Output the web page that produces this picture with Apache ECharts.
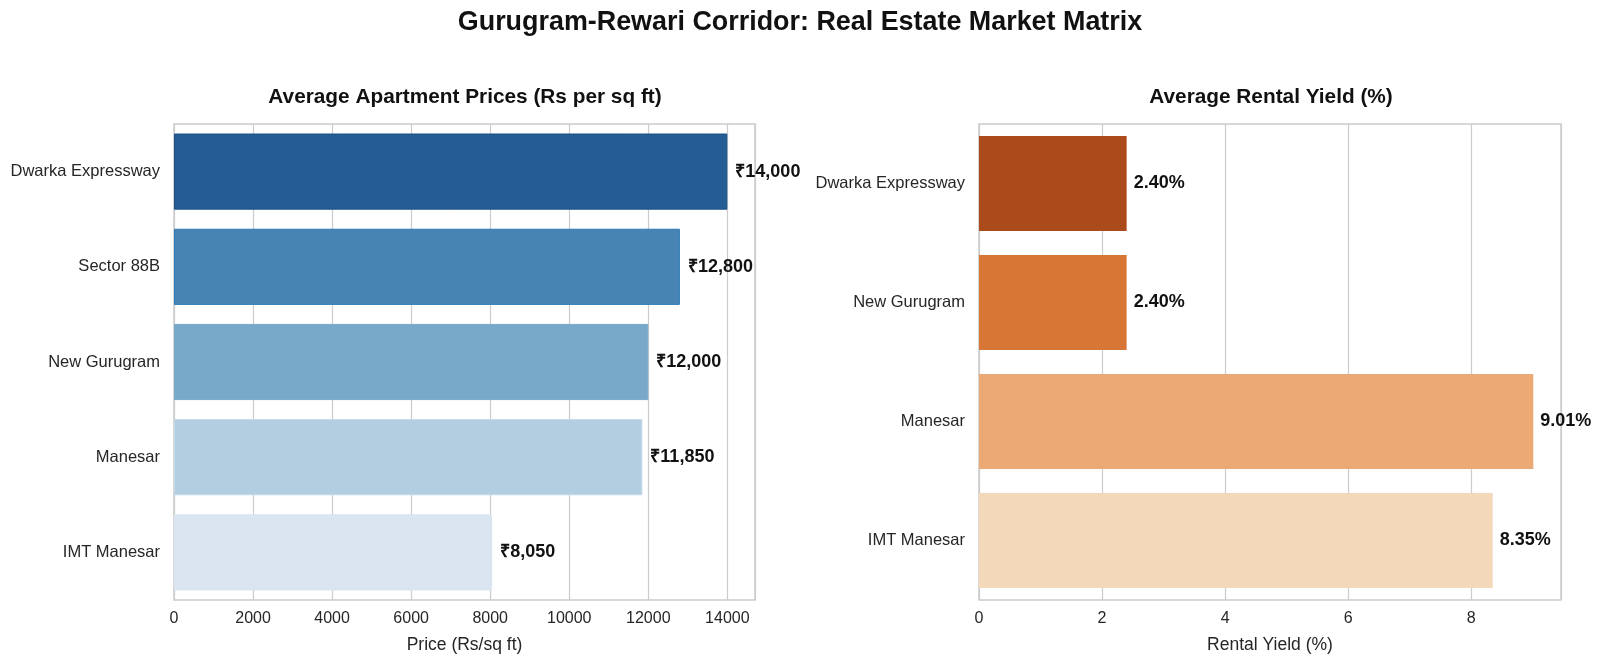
<!DOCTYPE html>
<html>
<head>
<meta charset="utf-8">
<script src="https://cdn.jsdelivr.net/npm/echarts@6/dist/echarts.min.js"></script>
<style>html,body{margin:0;padding:0;background:#fff}#c{width:1600px;height:663px}</style>
</head>
<body>
<div id="c"></div>
<script>
const priceCategories = ['Dwarka Expressway', 'Sector 88B', 'New Gurugram', 'Manesar', 'IMT Manesar'];
const priceValues = [14000, 12800, 12000, 11850, 8050];
const priceColors = ['#245d93', '#4884b3', '#79a9c9', '#b3cee0', '#dae5f1'];
const priceBorders = ['#1b4f88', '#2f7bb6', '#79a9c9', '#c3d9e8', '#dae5f1'];
const priceTicks = [0, 2000, 4000, 6000, 8000, 10000, 12000, 14000];

const yieldCategories = ['Dwarka Expressway', 'New Gurugram', 'Manesar', 'IMT Manesar'];
const yieldValues = [2.40, 2.40, 9.01, 8.35];
const yieldColors = ['#ab4a1b', '#d87636', '#eaa975', '#f3d8ba'];
const yieldTicks = [0, 2, 4, 6, 8];

const FONT = '"Liberation Sans", Arial, sans-serif';
const chart = echarts.init(document.getElementById('c'));

const priceMax = Math.max(...priceValues) * 1.05;
const yieldMax = Math.max(...yieldValues) * 1.05;

function valueAxis(gridIndex, max, interval, name, ticks) {
  return {
    type: 'value', gridIndex, min: 0, max, interval,
    name, nameLocation: 'middle', nameGap: 36,
    nameTextStyle: { fontFamily: FONT, fontSize: 17.5, color: '#262626' },
    axisLine: { show: false }, axisTick: { show: false },
    axisLabel: { fontFamily: FONT, fontSize: 16, color: '#262626', margin: 11, showMaxLabel: false,
      formatter: v => ticks.indexOf(v) >= 0 ? String(v) : '' },
    splitLine: { show: true, lineStyle: { color: '#cccccc', width: 1.2 } }
  };
}
function catAxis(gridIndex, data) {
  return {
    type: 'category', gridIndex, data, inverse: true,
    axisLine: { show: false }, axisTick: { show: false },
    axisLabel: { fontFamily: FONT, fontSize: 16.5, color: '#262626', margin: 14 },
    splitLine: { show: false }
  };
}

chart.setOption({
  backgroundColor: '#ffffff',
  animation: false,
  title: [
    { text: 'Gurugram-Rewari Corridor: Real Estate Market Matrix', left: 795, top: 4, textAlign: 'center',
      textStyle: { fontFamily: FONT, fontSize: 26.9, fontWeight: 'bold', color: '#111' } },
    { text: 'Average Apartment Prices (Rs per sq ft)', left: 460, top: 82, textAlign: 'center',
      textStyle: { fontFamily: FONT, fontSize: 20.8, fontWeight: 'bold', color: '#111' } },
    { text: 'Average Rental Yield (%)', left: 1266, top: 82, textAlign: 'center',
      textStyle: { fontFamily: FONT, fontSize: 20.8, fontWeight: 'bold', color: '#111' } }
  ],
  grid: [
    { left: 174, top: 124, width: 581, height: 476, show: true, borderColor: '#cccccc', borderWidth: 1.5, backgroundColor: '#fff' },
    { left: 979, top: 124, width: 582, height: 476, show: true, borderColor: '#cccccc', borderWidth: 1.5, backgroundColor: '#fff' }
  ],
  xAxis: [
    valueAxis(0, priceMax, 2000, 'Price (Rs/sq ft)', priceTicks),
    valueAxis(1, yieldMax, 2, 'Rental Yield (%)', yieldTicks)
  ],
  yAxis: [catAxis(0, priceCategories), catAxis(1, yieldCategories)],
  series: [
    {
      type: 'bar', xAxisIndex: 0, yAxisIndex: 0, barCategoryGap: '20%',
      data: priceValues.map((v, i) => ({ value: v, itemStyle: { color: priceColors[i], borderColor: priceBorders[i], borderWidth: 1 } })),
      label: { show: true, position: 'right', distance: 8, fontFamily: FONT, fontSize: 18, fontWeight: 'bold', color: '#111',
        formatter: p => '\u20B9' + p.value.toLocaleString('en-US') }
    },
    {
      type: 'bar', xAxisIndex: 1, yAxisIndex: 1, barCategoryGap: '20%',
      data: yieldValues.map((v, i) => ({ value: v, itemStyle: { color: yieldColors[i] } })),
      label: { show: true, position: 'right', distance: 7, fontFamily: FONT, fontSize: 18, fontWeight: 'bold', color: '#111',
        formatter: p => p.value.toFixed(2) + '%' }
    }
  ]
});
</script>
</body>
</html>
